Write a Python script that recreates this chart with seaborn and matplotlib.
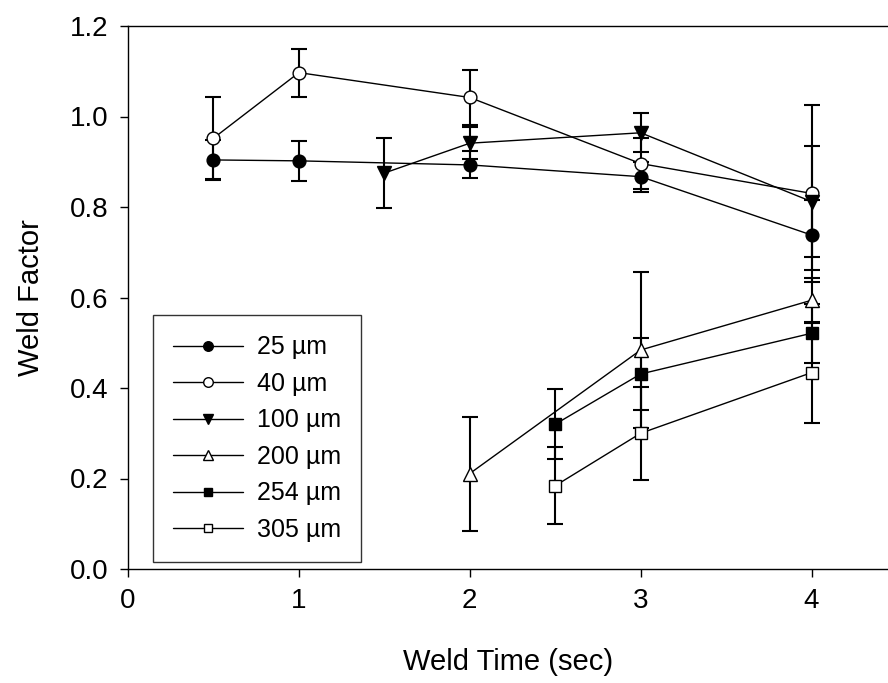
import numpy as np
import pandas as pd
import matplotlib
matplotlib.use("Agg")
import matplotlib.pyplot as plt
import seaborn as sns

# values
labels = ["25 µm", "40 µm", "100 µm", "200 µm", "254 µm", "305 µm"]

t_25 = [0.5, 1, 2, 3, 4]
wf_25 = [0.904, 0.902, 0.893, 0.867, 0.738]
err_25 = [0.045, 0.044, 0.030, 0.033, 0.077]

t_40 = [0.5, 1, 2, 3, 4]
wf_40 = [0.952, 1.097, 1.042, 0.896, 0.830]
err_40 = [0.090, 0.053, 0.061, 0.056, 0.196]

t_100 = [1.5, 2, 3, 4]
wf_100 = [0.875, 0.941, 0.964, 0.812]
err_100 = [0.077, 0.036, 0.043, 0.123]

t_200 = [2, 3, 4]
wf_200 = [0.211, 0.484, 0.594]
err_200 = [0.126, 0.172, 0.050]

t_254 = [2.5, 3, 4]
wf_254 = [0.320, 0.431, 0.521]
err_254 = [0.078, 0.079, 0.065]

t_305 = [2.5, 3, 4]
wf_305 = [0.184, 0.300, 0.434]
err_305 = [0.085, 0.103, 0.112]

times = [t_25, t_40, t_100, t_200, t_254, t_305]
factors = [wf_25, wf_40, wf_100, wf_200, wf_254, wf_305]
errors = [err_25, err_40, err_100, err_200, err_254, err_305]

# marker, face colour, size
styles = [("o", "black", 9.2), ("o", "white", 9.2), ("v", "black", 9.5),
          ("^", "white", 9.5), ("s", "black", 8.0), ("s", "white", 8.0)]

sns.set_style("ticks")
plt.rcParams["font.family"] = ["Liberation Sans", "DejaVu Sans"]
# plain black text and ticks instead of seaborn's dark grey
for key in ["text.color", "axes.labelcolor", "xtick.color", "ytick.color", "axes.edgecolor"]:
    plt.rcParams[key] = "black"

fig = plt.figure(figsize=(8.88, 6.83), dpi=100)
ax = fig.add_axes([128 / 888, 114 / 683, 1 - 128 / 888, 543 / 683])

# error bars first so markers sit on top
for t, wf, err in zip(times, factors, errors):
    ax.errorbar(t, wf, yerr=err, fmt="none", ecolor="black", elinewidth=1.5,
                capsize=6, capthick=1.5, zorder=2)

for lab, t, wf, (mk, fc, ms) in zip(labels, times, factors, styles):
    df = pd.DataFrame({"time": t, "factor": wf})
    sns.lineplot(data=df, x="time", y="factor", ax=ax, color="black",
                 linewidth=1.0, marker=mk, markersize=ms, markerfacecolor=fc,
                 markeredgecolor="black", markeredgewidth=1.0, label=lab,
                 sort=False, zorder=3)

ax.set_xlim(0, (888 - 128) / 170.9)
ax.set_ylim(0, 1.2)
ax.set_xticks([0, 1, 2, 3, 4])
ax.set_yticks(np.arange(0, 1.21, 0.2))
ax.set_yticklabels([f"{v:.1f}" for v in np.arange(0, 1.21, 0.2)])
ax.tick_params(direction="out", length=6, width=1.0, labelsize=20, pad=8,
               color="black", labelcolor="black")
ax.spines["right"].set_visible(False)
for s in ["left", "bottom", "top"]:
    ax.spines[s].set_linewidth(1.0)
    ax.spines[s].set_color("black")

ax.set_xlabel("Weld Time (sec)", fontsize=21, labelpad=24, color="black")
ax.set_ylabel("Weld Factor", fontsize=21, labelpad=18, color="black")

leg = ax.legend(loc="lower left", bbox_to_anchor=(0.033, 0.013), borderaxespad=0,
                fontsize=18, frameon=True, fancybox=False, edgecolor="black",
                handlelength=2.8, handletextpad=0.55, labelspacing=0.5,
                markerscale=0.75, borderpad=0.8)
leg.get_frame().set_linewidth(1.0)
for txt in leg.get_texts():
    txt.set_color("black")

fig.savefig("out.png", dpi=100)
